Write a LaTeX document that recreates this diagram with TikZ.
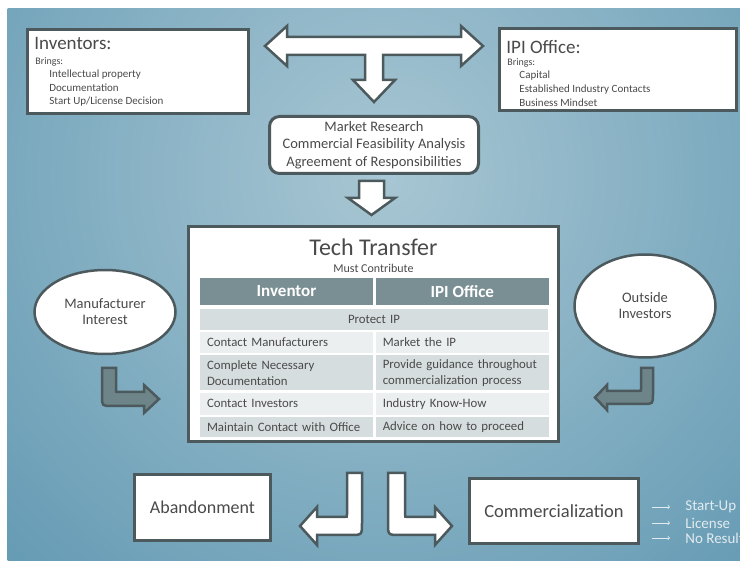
\documentclass[tikz,border=0pt]{standalone}
\usepackage{fontspec}
\setmainfont{Carlito}
\usepackage{xcolor}
\usepackage{tikz}
\usetikzlibrary{shapes.geometric, arrows, positioning}

\definecolor{bgin}{HTML}{A8C6D3}
\definecolor{bgout}{HTML}{3E82A2}
\definecolor{edge}{HTML}{4C5A5E}
\definecolor{txt}{HTML}{4A4A4A}
\definecolor{hdfill}{HTML}{7A8F94}
\definecolor{rowdark}{HTML}{D6DDDF}
\definecolor{rowlight}{HTML}{ECEFF0}
\definecolor{fatgray}{HTML}{6D8589}
\definecolor{outtxt}{HTML}{E2EBEF}

\newcommand{\fsz}[2]{\fontsize{#1}{#2}\selectfont}

\tikzset{
  box/.style={draw=edge, line width=3pt, fill=white, inner sep=0pt},
  oval/.style={ellipse, draw=edge, line width=2.5pt, fill=white, align=center, text=txt, font=\fsz{14.5}{16}},
  fat/.style={draw=edge, line width=2.5pt, fill=white},
  cell/.style={fill=rowdark, text=txt, font=\fsz{12.8}{15.5}, inner xsep=7pt, inner ysep=0pt, text width=159pt, align=left, minimum width=173pt},
  hdcell/.style={fill=hdfill, text=white, font=\fsz{17}{20}\bfseries, minimum width=173pt, minimum height=27pt, inner sep=0pt},
  outcome/.style={anchor=west, text=outtxt, font=\fsz{15}{16}, inner sep=0pt}
}

\begin{document}
\begin{tikzpicture}[x=1pt, y=-1pt, >=stealth, thick]
        % Background
        \useasboundingbox (0,0) rectangle (740,561);
        \begin{scope}
            \clip (7.5,9) rectangle (740,561);
            \shade[inner color=bgin, outer color=bgout] (385,175) circle (860);
        \end{scope}

        % Partners
        \node[box, minimum width=221pt, minimum height=84pt] (inv) at (138,71.5) {};
        \node[anchor=west, text=txt, font=\fsz{19}{20}, inner sep=0pt] (invtitle) at (34,43) {Inventors:};
        \node[anchor=north west, align=left, text=txt, font=\fsz{11}{13.5}, inner sep=0pt] (invbody) at (35,57)
            {{\fsz{10}{13.5}Brings:}\\\hspace*{14pt}Intellectual property\\\hspace*{14pt}Documentation\\\hspace*{14pt}Start Up/License Decision};

        \node[box, minimum width=237pt, minimum height=82pt] (ipi) at (618,69.5) {};
        \node[anchor=west, text=txt, font=\fsz{19}{20}, inner sep=0pt] (ipititle) at (506,47) {IPI Office:};
        \node[anchor=north west, align=left, text=txt, font=\fsz{11}{13.7}, inner sep=0pt] (ipibody) at (507,58)
            {{\fsz{10}{13.7}Brings:}\\\hspace*{12pt}Capital\\\hspace*{12pt}Established Industry Contacts\\\hspace*{12pt}Business Mindset};

        % Joining arrow
        \filldraw[fat] (265,46) -- (287,26) -- (287,37) -- (461,37) -- (461,26) -- (483,46) -- (461,66) -- (461,55)
            -- (383,55) -- (383,80) -- (395,80) -- (374,102) -- (353,80) -- (365,80) -- (365,55)
            -- (287,55) -- (287,66) -- cycle;

        \node[box, rounded corners=10pt, minimum width=209pt, minimum height=57pt, align=center, text=txt, font=\fsz{14.5}{17.5}] (market) at (374,145)
            {Market Research\\Commercial Feasibility Analysis\\Agreement of Responsibilities};

        \filldraw[fat] (359,181) -- (384,181) -- (384,198) -- (395,198) -- (371.5,215) -- (348,198) -- (359,198) -- cycle;

        % Tech transfer table
        \node[box, minimum width=370pt, minimum height=215pt] (tech) at (373.5,334) {};
        \node[text=txt, font=\fsz{24}{26}] (techtitle) at (373.5,247) {Tech Transfer};
        \node[text=txt, font=\fsz{12}{14}] (must) at (373.5,268) {Must Contribute};

        \node[hdcell] (hdinv) at (286.5,291.5) {Inventor};
        \node[hdcell, right=2pt of hdinv] (hdipi) {IPI Office};
        \node[cell, text width=334pt, minimum width=348pt, align=center, minimum height=21pt, below=3pt of hdinv.south west, anchor=north west] (protect) {Protect IP};
        \node[cell, fill=rowlight, minimum height=21pt, below=1.5pt of protect.south west, anchor=north west] (r1l) {Contact Manufacturers};
        \node[cell, fill=rowlight, minimum height=21pt, right=2pt of r1l] (r1r) {Market the IP};
        \node[cell, minimum height=35pt, below=1.5pt of r1l.south west, anchor=north west] (r2l) {Complete Necessary\\Documentation};
        \node[cell, minimum height=35pt, right=2pt of r2l] (r2r) {Provide guidance throughout\\commercialization process};
        \node[cell, fill=rowlight, minimum height=22pt, below=1.5pt of r2l.south west, anchor=north west] (r3l) {Contact Investors};
        \node[cell, fill=rowlight, minimum height=22pt, right=2pt of r3l] (r3r) {Industry Know-How};
        \node[cell, minimum height=20.5pt, below=1.5pt of r3l.south west, anchor=north west] (r4l) {Maintain Contact with Office};
        \node[cell, minimum height=20.5pt, right=2pt of r4l] (r4r) {Advice on how to proceed};

        % Side inputs
        \node[oval, minimum width=141pt, minimum height=84pt] (manu) at (105,312) {Manufacturer\\Interest};
        \node[oval, minimum width=141pt, minimum height=103pt] (outside) at (645,306) {Outside\\Investors};

        \filldraw[fat, fill=fatgray] (102,368) -- (116,368) -- (116,390) .. controls (116,392) .. (118,392) -- (144,392)
            -- (144,385) -- (159,399) -- (144,413) -- (144,406) -- (112,406) .. controls (102,406) .. (102,396) -- cycle;
        \filldraw[fat, fill=fatgray] (653,368) -- (641,368) -- (641,389) .. controls (641,391) .. (639,391) -- (607,391)
            -- (607,385) -- (595,397.5) -- (607,410) -- (607,404) -- (643,404) .. controls (653,404) .. (653,394) -- cycle;

        % Results
        \filldraw[fat] (362,473) -- (347,473) -- (347,514) .. controls (347,517) .. (344,517) -- (317,517)
            -- (317,507) -- (300,526) -- (317,545) -- (317,535) -- (350,535) .. controls (362,535) .. (362,523) -- cycle;
        \filldraw[fat] (388,473) -- (405,473) -- (405,514) .. controls (405,517) .. (408,517) -- (435,517)
            -- (435,507) -- (452,526) -- (435,545) -- (435,535) -- (400,535) .. controls (388,535) .. (388,523) -- cycle;

        \node[box, minimum width=136pt, minimum height=66pt, text=txt, font=\fsz{18}{20}] (aband) at (202.5,507.5) {Abandonment};
        \node[box, minimum width=169pt, minimum height=65pt, text=txt, font=\fsz{18.5}{20}] (comm) at (554,511) {Commercialization};

        \node[outcome] (startup) at (685,507) {Start-Up};
        \node[outcome] (license) at (685,523) {License};
        \node[outcome] (noresult) at (685,538) {No Result};

        \draw[-to, outtxt, line width=0.7pt, shorten <=12pt, shorten >=15pt] (comm.east |- startup) -- (startup.west);
        \draw[-to, outtxt, line width=0.7pt, shorten <=12pt, shorten >=15pt] (comm.east |- license) -- (license.west);
        \draw[-to, outtxt, line width=0.7pt, shorten <=12pt, shorten >=15pt] (comm.east |- noresult) -- (noresult.west);

    \end{tikzpicture}
\end{document}
